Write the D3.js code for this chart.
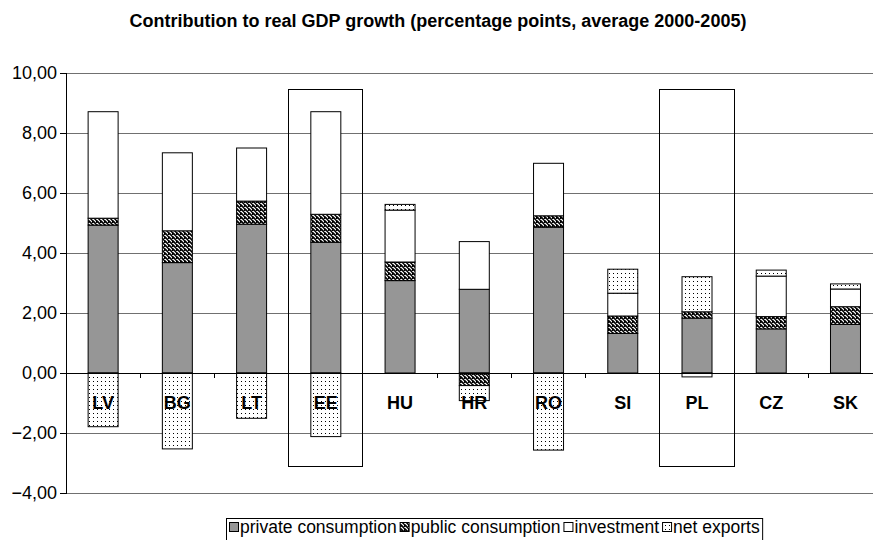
<!DOCTYPE html>
<html><head><meta charset="utf-8">
<script src="https://cdn.jsdelivr.net/npm/d3@7"></script>
<style>body{margin:0;background:#fff}svg{display:block;font-family:"Liberation Sans",Arial,sans-serif}</style>
</head><body><svg id="c" width="873" height="540"></svg>
<script>
const categories = ["LV","BG","LT","EE","HU","HR","RO","SI","PL","CZ","SK"];
const privateConsumption = [4.93,3.68,4.96,4.36,3.08,2.79,4.86,1.32,1.83,1.47,1.62];
const publicConsumption  = [0.23,1.06,0.77,0.93,0.62,-0.42,0.38,0.58,0.21,0.41,0.59];
const investment         = [3.55,2.60,1.77,3.42,1.73,1.59,1.75,0.76,-0.13,1.35,0.59];
const netExports         = [-1.79,-2.53,-1.51,-2.12,0.19,-0.50,-2.57,0.80,1.17,0.20,0.17];
const seriesNames = ["private consumption","public consumption","investment","net exports"];
const yTicks = [-4,-2,0,2,4,6,8,10];
const highlighted = ["EE","PL"];
const highlightRange = [-3.1, 9.45];
const title = "Contribution to real GDP growth (percentage points, average 2000-2005)";

(function(){
const svg = d3.select("#c");
const defs = svg.append("defs");
const hatch = defs.append("pattern").attr("id","hatch").attr("patternUnits","userSpaceOnUse").attr("width",4).attr("height",4);
hatch.append("rect").attr("width",4).attr("height",4).attr("fill","#fff");
hatch.append("path").attr("d","M-1,1 l2,2 M0,0 l4,4 M3,-1 l2,2").attr("stroke","#000").attr("stroke-width",1.6);
const dots = defs.append("pattern").attr("id","dots").attr("patternUnits","userSpaceOnUse").attr("width",4).attr("height",4);
dots.append("rect").attr("width",4).attr("height",4).attr("fill","#fff");
dots.append("rect").attr("x",1).attr("y",1).attr("width",1).attr("height",1).attr("fill","#000");
const fills = ["#969696","url(#hatch)","#ffffff","url(#dots)"];

const pL = 66, pR = 882.6, pT = 73, pB = 493;
const y = d3.scaleLinear().domain([-4,10]).range([pB, pT]);
const xBand = d3.scaleBand().domain(categories).range([pL, pR]).padding(0);
const xBar = d3.scaleBand().domain(categories).range([pL, pR]).paddingInner(0.596).paddingOuter(0.298);

// gridlines
svg.append("g").selectAll("line").data(yTicks.filter(t => t !== 0)).join("line")
  .attr("x1", pL).attr("x2", pR).attr("y1", d => y(d)).attr("y2", d => y(d))
  .attr("stroke", "#707070").attr("stroke-width", 1).attr("shape-rendering","crispEdges");

// y axis
const yAxis = svg.append("g").attr("transform",`translate(${pL},0)`)
  .call(d3.axisLeft(y).tickValues(yTicks).tickSize(6).tickPadding(3).tickFormat(d => d3.format(".2f")(d).replace(".", ",")));
yAxis.select(".domain").attr("stroke","#000").attr("shape-rendering","crispEdges");
yAxis.selectAll(".tick line").attr("stroke","#000").attr("shape-rendering","crispEdges");
yAxis.selectAll("text").attr("font-size",18).attr("fill","#000").attr("font-family","Liberation Sans, Arial, sans-serif");

// stacked bars
const rows = categories.map((c,i) => ({cat:c, p:privateConsumption[i], g:publicConsumption[i], inv:investment[i], nx:netExports[i]}));
const keys = ["p","g","inv","nx"];
const stack = d3.stack().keys(keys).offset(d3.stackOffsetDiverging)(rows);
const bars = svg.append("g");
stack.forEach((s, si) => {
  bars.append("g").selectAll("rect").data(s).join("rect")
    .attr("x", d => xBar(d.data.cat)).attr("width", xBar.bandwidth())
    .attr("y", d => y(Math.max(d[0], d[1]))).attr("height", d => Math.abs(y(d[0]) - y(d[1])))
    .attr("fill", fills[si]).attr("stroke", "#000").attr("stroke-width", 1);
});

// category axis at zero
svg.append("line").attr("x1", pL).attr("x2", pR).attr("y1", y(0)).attr("y2", y(0))
  .attr("stroke","#000").attr("shape-rendering","crispEdges");
svg.append("g").selectAll("line").data(categories).join("line")
  .attr("x1", d => xBand(d)).attr("x2", d => xBand(d)).attr("y1", y(0)).attr("y2", y(0) + 5)
  .attr("stroke","#000").attr("shape-rendering","crispEdges");

// highlight boxes
svg.append("g").selectAll("rect").data(highlighted).join("rect")
  .attr("x", d => xBand(d)).attr("width", xBand.bandwidth())
  .attr("y", y(highlightRange[1])).attr("height", y(highlightRange[0]) - y(highlightRange[1]))
  .attr("fill","none").attr("stroke","#000").attr("stroke-width",1).attr("shape-rendering","crispEdges");

// category labels
svg.append("g").selectAll("text").data(categories).join("text")
  .attr("x", d => xBand(d) + xBand.bandwidth()/2).attr("y", y(0) + 36)
  .attr("text-anchor","middle").attr("font-size",18).attr("font-weight","bold").text(d => d);

// title
svg.append("text").attr("x", 438).attr("y", 27).attr("text-anchor","middle")
  .attr("font-size",18).attr("font-weight","bold").text(title);

// legend
const lg = svg.append("g");
const legRect = lg.append("rect").attr("x",226.5).attr("y",518.5).attr("height",30)
  .attr("fill","#fff").attr("stroke","#000");
let lx = 229;
seriesNames.forEach((n,i) => {
  lg.append("rect").attr("x", lx+0.5).attr("y", 522.5).attr("width", 9).attr("height", 9)
    .attr("fill", fills[i]).attr("stroke","#000");
  const t = lg.append("text").attr("x", lx + 11).attr("y", 533).attr("font-size", 17.5).text(n);
  lx += 11 + t.node().getComputedTextLength() + 3;
});
legRect.attr("width", lx - 226.5);
})();
</script></body></html>
